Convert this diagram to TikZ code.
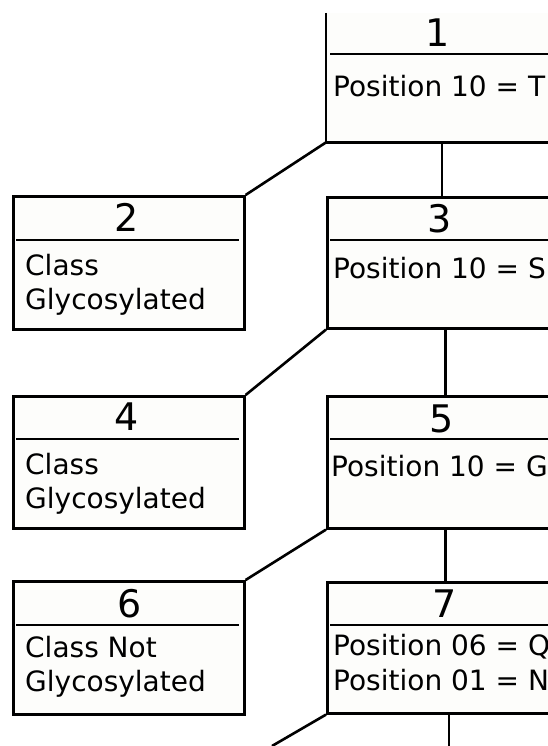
\documentclass[tikz,border=0pt]{standalone}
\usepackage{fontspec}
\setmainfont{DejaVu Sans}
\usetikzlibrary{calc}
\definecolor{boxfill}{RGB}{253,253,251}
\tikzset{
  box/.style={draw=black, line width=2.6pt, fill=boxfill, rectangle, inner sep=0pt, anchor=north west},
  openbox/.style={draw=none, fill=boxfill, rectangle, inner sep=0pt, anchor=north west},
  sepline/.style={line width=2.6pt},
  conn/.style={line width=2.6pt},
  numtxt/.style={inner sep=0pt, font=\fontsize{38}{40}\selectfont},
  bodytxt/.style={inner sep=0pt, anchor=base west, font=\fontsize{28}{34}\selectfont}
}
\begin{document}
\begin{tikzpicture}[x=1pt,y=-1pt]
\useasboundingbox (0,0) rectangle (548,746);
\clip (0,0) rectangle (548,746);
% box 1 (top cut off)
\node[openbox, minimum width=232pt, minimum height=129pt] (b1) at (326,13) {};
\draw[line width=2.6pt] (b1.north west) -- (b1.south west) -- (b1.south east);
\draw[sepline] (330,54) -- (560,54);
\node[numtxt] (n1) at (438,33) {1};
\node[bodytxt] (t1) at (333,97) {Position 10 = T};
% box 2
\node[box, minimum width=231pt, minimum height=133pt] (b2) at (12,195) {};
\draw[sepline] (16,240) -- (239,240);
\node[numtxt] (n2) at (127,217) {2};
\node[bodytxt] (t2a) at (25,275) {Class};
\node[bodytxt] (t2b) at (25,309) {Glycosylated};
% box 3
\node[box, minimum width=236pt, minimum height=131pt] (b3) at (326,196) {};
\draw[sepline] (330,240) -- (562,240);
\node[numtxt] (n3) at (440,219) {3};
\node[bodytxt] (t3) at (333,278) {Position 10 = S};
% box 4
\node[box, minimum width=231pt, minimum height=132pt] (b4) at (12,395) {};
\draw[sepline] (16,439) -- (239,439);
\node[numtxt] (n4) at (127,417) {4};
\node[bodytxt] (t4a) at (25,474) {Class};
\node[bodytxt] (t4b) at (25,508) {Glycosylated};
% box 5
\node[box, minimum width=236pt, minimum height=132pt] (b5) at (326,395) {};
\draw[sepline] (330,439) -- (562,439);
\node[numtxt] (n5) at (442,419) {5};
\node[bodytxt] (t5) at (331,476) {Position 10 = G};
% box 6
\node[box, minimum width=231pt, minimum height=133pt] (b6) at (12,580) {};
\draw[sepline] (16,625) -- (239,625);
\node[numtxt] (n6) at (130,604) {6};
\node[bodytxt] (t6a) at (25,657) {Class Not};
\node[bodytxt] (t6b) at (25,691) {Glycosylated};
% box 7
\node[box, minimum width=236pt, minimum height=131pt] (b7) at (326,581) {};
\draw[sepline] (330,625) -- (562,625);
\node[numtxt] (n7) at (445,604) {7};
\node[bodytxt] (t7a) at (333,655) {Position 06 = Q};
\node[bodytxt] (t7b) at (333,690) {Position 01 = N};
% continuation stubs below box 7
\coordinate (e1) at (272,746);
\coordinate (e2) at (449,746);
% connectors
\draw[conn] (b1.south west) -- (b2.north east);
\draw[conn] ([xshift=116pt]b1.south west) -- ([xshift=116pt]b3.north west);
\draw[conn] (b3.south west) -- (b4.north east);
\draw[conn] (b3.south) -- (b5.north);
\draw[conn] (b5.south west) -- (b6.north east);
\draw[conn] (b5.south) -- (b5.south |- b7.north);
\draw[conn] (b7.south west) -- (e1);
\draw[conn] ([xshift=123pt]b7.south west) -- (e2);
\end{tikzpicture}
\end{document}
